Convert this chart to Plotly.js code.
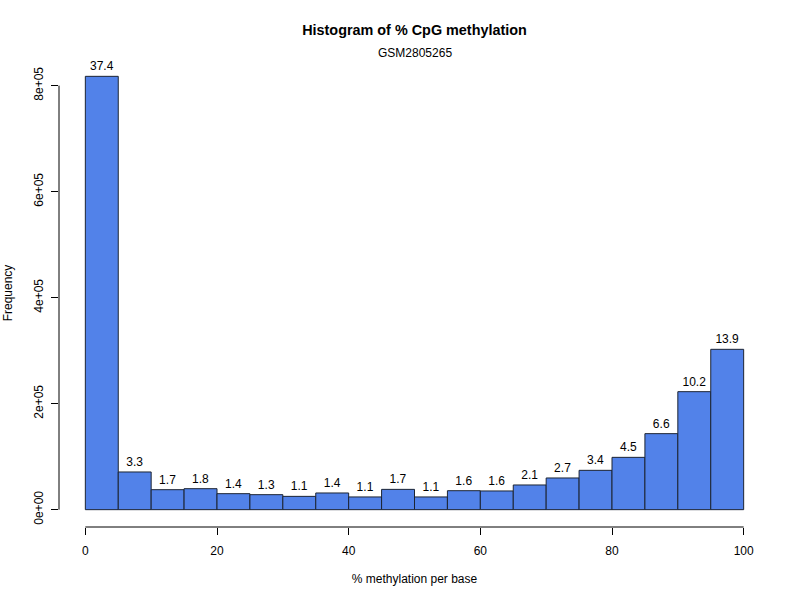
<!DOCTYPE html>
<html>
<head>
<meta charset="utf-8">
<script src="https://cdn.plot.ly/plotly-3.0.1.min.js"></script>
<style>html,body{margin:0;padding:0;background:#fff;}#chart{width:800px;height:600px;}</style>
</head>
<body>
<div id="chart"></div>
<script>
// Bin left edges (% methylation), bin width 5
var binLeft = [0, 5, 10, 15, 20, 25, 30, 35, 40, 45, 50, 55, 60, 65, 70, 75, 80, 85, 90, 95];
var binWidth = 5;
// Frequency per bin
var counts = [817500, 71100, 37700, 39600, 30200, 28300, 25100, 31500, 24000, 38300,
              24000, 35800, 35300, 46600, 59800, 74200, 98700, 143400, 222600, 302500];
// Percent labels shown above bars
var pctLabels = ["37.4", "3.3", "1.7", "1.8", "1.4", "1.3", "1.1", "1.4", "1.1", "1.7",
                 "1.1", "1.6", "1.6", "2.1", "2.7", "3.4", "4.5", "6.6", "10.2", "13.9"];
var xTicks = [0, 20, 40, 60, 80, 100];
var yTicks = [0, 200000, 400000, 600000, 800000];
var yTickText = ["0e+00", "2e+05", "4e+05", "6e+05", "8e+05"];

var centers = binLeft.map(function (b) { return b + binWidth / 2; });
var ymax = Math.max.apply(null, counts);
var FONT = "Liberation Sans, Arial, Helvetica, sans-serif";

var trace = {
  type: "bar",
  x: centers,
  y: counts,
  width: binWidth,
  marker: { color: "#5282E9", line: { color: "#1c2433", width: 1 } },
  text: pctLabels,
  textposition: "outside",
  textfont: { family: FONT, size: 12, color: "#000" },
  constraintext: "none",
  cliponaxis: false,
  hoverinfo: "x+y"
};

var layout = {
  width: 800, height: 600,
  margin: { l: 59, r: 30, t: 59, b: 73, pad: 0 },
  paper_bgcolor: "#fff", plot_bgcolor: "#fff",
  showlegend: false,
  bargap: 0,
  font: { family: FONT, size: 12, color: "#000" },
  title: {
    text: "Histogram of % CpG methylation",
    font: { family: FONT, size: 14.4, color: "#000", weight: "bold" },
    x: 0.5, xref: "paper", xanchor: "center",
    y: 1 - 30 / 600, yref: "container", yanchor: "middle"
  },
  xaxis: {
    range: [-4, 104],
    showgrid: false, zeroline: false, showline: false,
    ticks: "outside", ticklen: 7, tickwidth: 1, tickcolor: "#000",
    tickvals: xTicks, ticktext: xTicks.map(String),
    tickfont: { family: FONT, size: 12, color: "#000" },
    ticklabelstandoff: 6,
    title: { text: "% methylation per base", font: { family: FONT, size: 12, color: "#000" }, standoff: 17 },
    fixedrange: true
  },
  yaxis: {
    range: [-0.04 * ymax, 1.04 * ymax],
    showgrid: false, zeroline: false, showline: false,
    ticks: "outside", ticklen: 7, tickwidth: 1, tickcolor: "#000",
    tickvals: yTicks, ticktext: yTickText,
    tickangle: -90,
    tickfont: { family: FONT, size: 12, color: "#000" },
    ticklabelstandoff: 3,
    title: { text: "Frequency", font: { family: FONT, size: 12, color: "#000" }, standoff: 17 },
    fixedrange: true
  },
  shapes: [
    { type: "line", xref: "x", yref: "paper", x0: xTicks[0], x1: xTicks[xTicks.length - 1], y0: 0, y1: 0,
      line: { color: "#000", width: 1 } },
    { type: "line", xref: "paper", yref: "y", x0: 0, x1: 0, y0: yTicks[0], y1: yTicks[yTicks.length - 1],
      line: { color: "#000", width: 1 } }
  ],
  annotations: [
    { text: "GSM2805265", xref: "paper", yref: "paper", x: 0.5, y: 1, yshift: 6,
      xanchor: "center", yanchor: "middle", showarrow: false,
      font: { family: FONT, size: 12, color: "#000" } }
  ]
};

Plotly.newPlot("chart", [trace], layout, { displayModeBar: false, staticPlot: true });
</script>
</body>
</html>
